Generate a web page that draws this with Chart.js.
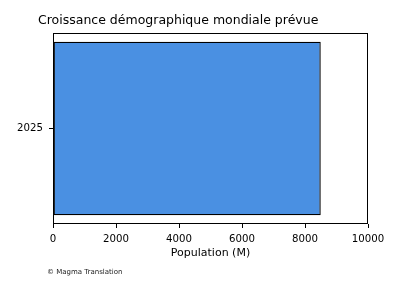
<!DOCTYPE html>
<html><head><meta charset="utf-8">
<script src="https://cdn.jsdelivr.net/npm/chart.js@4/dist/chart.umd.min.js"></script>
<style>html,body{margin:0;padding:0;background:#fff}#wrap{width:400px;height:300px}</style>
</head><body><div id="wrap"><canvas id="c" width="400" height="300"></canvas></div>
<script>
const categories = ['2025'];
const populationValues = [8500];
const xTickValues = [0, 2000, 4000, 6000, 8000, 10000];
const titleText = 'Croissance démographique mondiale prévue';
const xAxisTitle = 'Population (M)';
const captionText = '© Magma Translation';

const FONT = 'DejaVu Sans';

const framePlugin = {
  id: 'frame',
  afterDraw(chart) {
    const {ctx, chartArea: a} = chart;
    ctx.save();
    ctx.strokeStyle = '#000';
    ctx.lineWidth = 1;
    ctx.strokeRect(Math.round(a.left) + 0.5, Math.round(a.top) + 0.5, Math.round(a.right - a.left) - 1, Math.round(a.bottom - a.top) - 1);
    ctx.fillStyle = '#000';
    ctx.textBaseline = 'alphabetic';
    ctx.textAlign = 'left';
    ctx.font = '12.5px "' + FONT + '"';
    ctx.fillText(titleText, 38, 24);
    ctx.textAlign = 'center';
    ctx.textBaseline = 'middle';
    ctx.font = '11px "' + FONT + '"';
    ctx.fillText(xAxisTitle, (a.left + a.right) / 2, 253);
    ctx.textAlign = 'left';
    ctx.textBaseline = 'alphabetic';
    ctx.font = '7px "' + FONT + '"';
    ctx.fillStyle = '#222';
    ctx.fillText(captionText, 47, 274);
    ctx.restore();
  }
};

new Chart(document.getElementById('c'), {
  type: 'bar',
  data: {
    labels: categories,
    datasets: [{
      data: populationValues,
      backgroundColor: '#4A90E2',
      borderColor: '#000',
      borderWidth: 1.4,
      borderSkipped: false,
      barPercentage: 0.909,
      categoryPercentage: 1.0
    }]
  },
  options: {
    indexAxis: 'y',
    responsive: false,
    animation: false,
    devicePixelRatio: 1,
    layout: { padding: { top: 33, right: 32, left: 0, bottom: 0 } },
    plugins: { legend: { display: false }, title: { display: false }, tooltip: { enabled: false } },
    scales: {
      x: {
        type: 'linear',
        min: 0, max: 10000,
        afterBuildTicks(scale) { scale.ticks = xTickValues.map(v => ({value: v})); },
        afterFit(scale) { scale.height = 76; },
        grid: { display: true, drawOnChartArea: false, drawTicks: true, tickLength: 4, color: '#000' },
        border: { display: false },
        ticks: { color: '#000', font: { family: FONT, size: 10.2 }, padding: 5, maxRotation: 0, callback: v => String(v) }
      },
      y: {
        afterFit(scale) { scale.width = 53; },
        grid: { display: true, drawOnChartArea: false, drawTicks: true, tickLength: 4, color: '#000', offset: false },
        border: { display: false },
        ticks: { color: '#000', font: { family: FONT, size: 10.2 }, padding: 6 }
      }
    }
  },
  plugins: [framePlugin]
});
</script></body></html>
